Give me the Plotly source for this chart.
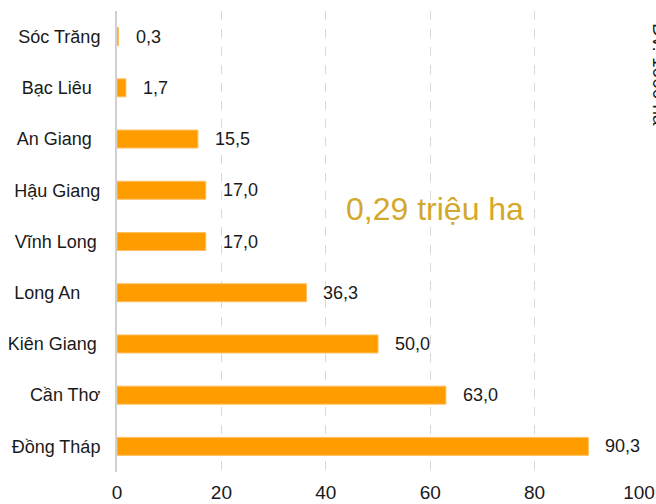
import plotly.graph_objects as go

# Diện tích theo tỉnh (nghìn ha)
provinces = ["Sóc Trăng", "Bạc Liêu", "An Giang", "Hậu Giang", "Vĩnh Long",
             "Long An", "Kiên Giang", "Cần Thơ", "Đồng Tháp"]
values = [0.3, 1.7, 15.5, 17.0, 17.0, 36.3, 50.0, 63.0, 90.3]
value_text = ["0,3", "1,7", "15,5", "17,0", "17,0", "36,3", "50,0", "63,0", "90,3"]
# trailing padding as in the source labels
label_pad = ["", "\u00a0\u2009", "\u00a0\u2009", "", "\u2009", "\u00a0\u00a0\u00a0\u00a0", "\u2009", "", ""]
x_ticks = [0, 20, 40, 60, 80, 100]

FONT = "Liberation Sans, Arial, sans-serif"

fig = go.Figure()
fig.add_trace(go.Bar(
    x=values, y=provinces, orientation="h",
    width=0.35,
    marker=dict(color="#FF9C00", line=dict(color="#FFBE5C", width=1)),
    hoverinfo="skip",
))

for p, v, t in zip(provinces, values, value_text):
    fig.add_annotation(x=v, y=p, text=t, showarrow=False, xanchor="left", yanchor="middle",
                       xshift=15, font=dict(size=18, color="#1a1a1a", family=FONT))

fig.add_annotation(x=0.61, y=0.57, xref="paper", yref="paper", text="0,29 triệu ha",
                   showarrow=False, xanchor="center", yanchor="middle",
                   font=dict(size=32, color="#D4A82A", family=FONT))

fig.add_annotation(x=1.016, y=0.861, xref="paper", yref="paper", text="Đv: 1000 ha",
                   showarrow=False, textangle=90, xanchor="left", yanchor="middle",
                   font=dict(size=19, color="#1a1a1a", family=FONT))

fig.update_xaxes(range=[0, 100], tickvals=x_ticks, ticktext=[str(v) for v in x_ticks],
                 showgrid=True, gridcolor="#D9D9D9", griddash="dash", gridwidth=1,
                 zeroline=False, showline=False, automargin=False,
                 ticks="outside", ticklen=3, tickcolor="rgba(0,0,0,0)",
                 tickfont=dict(size=19, color="#1a1a1a", family=FONT))
fig.update_yaxes(categoryorder="array", categoryarray=provinces[::-1],
                 tickvals=provinces, ticktext=[p + s for p, s in zip(provinces, label_pad)],
                 showgrid=False, showline=True, linecolor="#D0D0D0", linewidth=2,
                 automargin=False,
                 ticks="outside", ticklen=11, tickcolor="rgba(0,0,0,0)",
                 tickfont=dict(size=18, color="#1a1a1a", family=FONT))

fig.update_layout(
    width=656, height=504,
    margin=dict(l=117, r=17, t=11, b=32),
    paper_bgcolor="white", plot_bgcolor="white",
    showlegend=False, bargap=0.65,
)

# page has a default 8px body margin; drop it so the figure fills the window
fig.write_html("out.html", config={"displayModeBar": False},
               post_script="document.body.style.margin='0';")
